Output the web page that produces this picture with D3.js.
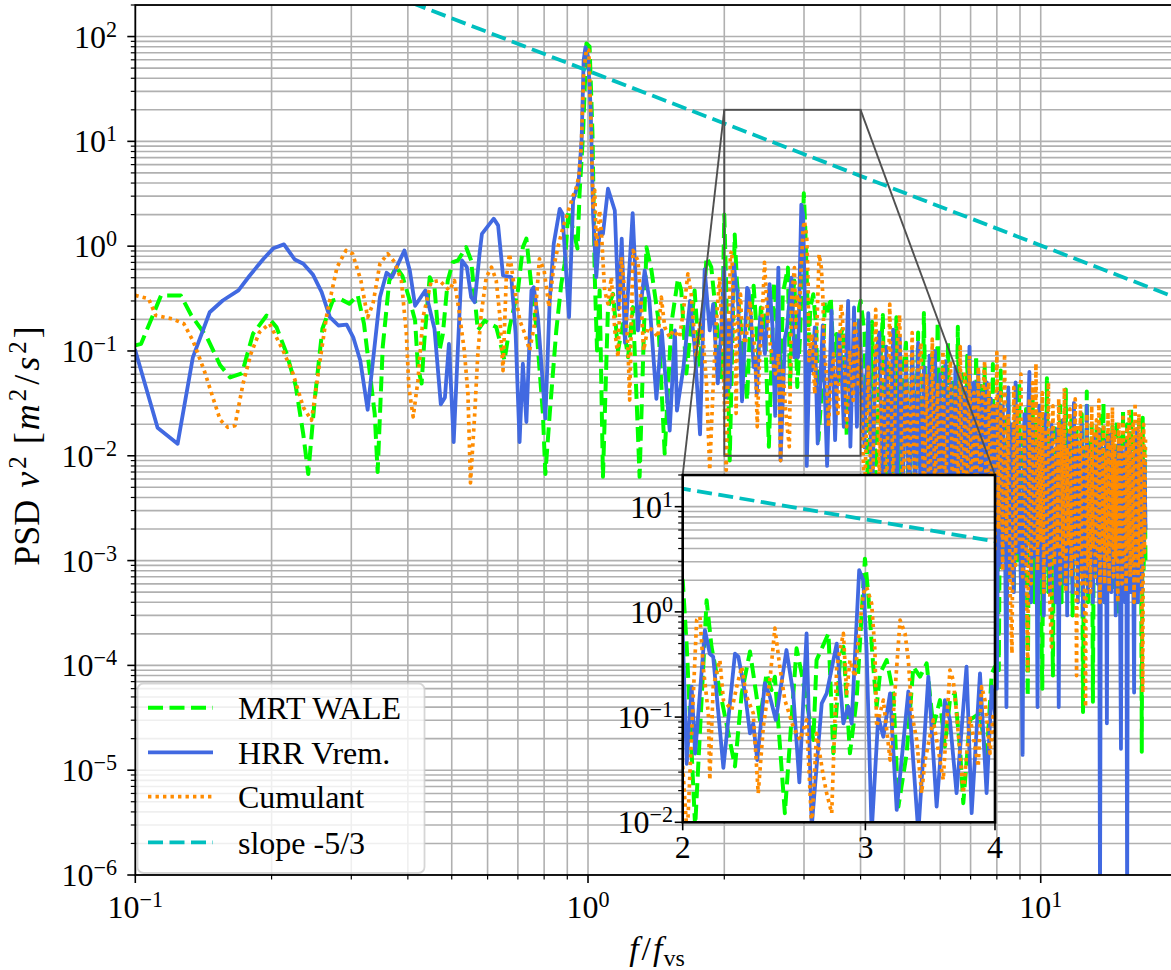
<!DOCTYPE html>
<html><head><meta charset="utf-8">
<script src="https://cdn.jsdelivr.net/npm/d3@7"></script>
<style>
body{margin:0;background:#fff}
svg{display:block}
text{font-family:"Liberation Serif","Times New Roman",serif;fill:#000}
</style>
</head><body>
<svg id="c" width="1171" height="970"></svg>
<script>
// ---------------- DATA ----------------
const seriesNames = ["MRT WALE", "HRR Vrem.", "Cumulant", "slope -5/3"];

// low-frequency + zoom-window part, [f/f_vs, PSD]
const hrrLow = [[0.100,0.101],[0.112,0.0185],[0.124,0.013],[0.134,0.087],[0.146,0.234],[0.156,0.303],[0.169,0.378],[0.179,0.525],[0.192,0.758],[0.202,0.957],[0.213,1.04],[0.225,0.746],[0.235,0.68],[0.247,0.533],[0.258,0.364],[0.269,0.21],[0.281,0.175],[0.293,0.178],[0.303,0.135],[0.314,0.081],[0.326,0.0275],[0.347,0.326],[0.359,0.557],[0.369,0.506],[0.393,0.91],[0.404,0.586],[0.415,0.27],[0.437,0.378],[0.458,0.163],[0.473,0.031],[0.483,0.036],[0.493,0.117],[0.505,0.0135],[0.520,0.226],[0.527,0.73],[0.540,0.63],[0.552,0.326],[0.562,0.292],[0.576,0.846],[0.583,1.31],[0.619,1.83],[0.633,1.58],[0.649,0.525],[0.677,0.506],[0.692,0.146],[0.706,0.0135],[0.718,0.0755],[0.731,0.021],[0.750,0.378],[0.759,0.406],[0.776,0.195],[0.805,0.0226],[0.823,0.303],[0.840,1.05],[0.866,2.27],[0.878,2.04],[0.908,0.21],[0.927,2.73],[0.953,4.08],[0.968,10.2],[0.978,59],[0.987,79],[1.000,65],[1.014,19.7],[1.026,2.04],[1.043,0.506],[1.061,1.41],[1.079,1.31],[1.107,3.53],[1.146,2.19],[1.168,0.25],[1.187,1.18],[1.207,0.12],[1.255,2.07],[1.289,0.157],[1.334,0.586],[1.366,0.31],[1.416,0.035],[1.455,0.157],[1.515,0.0174],[1.556,0.157],[1.572,0.027],[1.625,0.07],[1.680,0.3],[1.720,0.109],[1.768,0.016],[1.810,0.6],[1.857,0.157],[1.890,0.28],[1.935,0.049],[1.971,0.169],[2.000,0.62],[2.018,0.036],[2.040,0.195],[2.056,0.045],[2.101,0.67],[2.124,0.40],[2.140,0.375],[2.189,0.033],[2.246,0.40],[2.263,0.375],[2.297,0.168],[2.322,0.07],[2.339,0.087],[2.360,0.039],[2.400,0.21],[2.427,0.157],[2.459,0.094],[2.518,0.434],[2.556,0.168],[2.591,0.024],[2.633,0.624],[2.663,0.009],[2.723,0.135],[2.753,0.168],[2.815,0.50],[2.857,0.087],[2.888,0.126],[2.910,0.087],[2.959,2.49],[2.986,2.0],[3.008,0.434],[3.042,0.008],[3.087,0.101],[3.122,0.065],[3.169,0.168],[3.216,0.0131],[3.300,0.175],[3.374,0.008],[3.450,0.242],[3.514,0.0141],[3.579,0.145],[3.619,0.094],[3.673,0.0189],[3.755,0.301],[3.798,0.0122],[3.869,0.26],[3.926,0.0189],[3.971,0.195],[4.000,0.109]];

const mrtLow = [[0.100,0.113],[0.103,0.117],[0.114,0.339],[0.126,0.339],[0.133,0.218],[0.144,0.135],[0.154,0.073],[0.162,0.056],[0.172,0.061],[0.182,0.146],[0.195,0.218],[0.205,0.169],[0.216,0.094],[0.226,0.047],[0.235,0.016],[0.241,0.0067],[0.249,0.034],[0.259,0.163],[0.273,0.303],[0.283,0.315],[0.297,0.282],[0.310,0.339],[0.320,0.182],[0.338,0.025],[0.343,0.007],[0.352,0.109],[0.364,0.47],[0.377,0.63],[0.389,0.52],[0.404,0.303],[0.415,0.195],[0.421,0.07],[0.429,0.049],[0.435,0.126],[0.447,0.506],[0.458,0.406],[0.470,0.101],[0.478,0.146],[0.490,0.47],[0.503,0.704],[0.516,0.73],[0.538,0.978],[0.552,0.73],[0.571,0.157],[0.591,0.195],[0.606,0.182],[0.627,0.169],[0.638,0.126],[0.654,0.081],[0.671,0.169],[0.700,0.378],[0.718,0.978],[0.731,1.18],[0.750,0.406],[0.769,0.169],[0.795,0.025],[0.805,0.0067],[0.823,0.025],[0.851,0.157],[0.873,0.438],[0.888,0.68],[0.896,1.13],[0.905,2.2],[0.925,1.5],[0.948,0.95],[0.958,3.2],[0.975,11.8],[0.992,86],[1.008,80],[1.023,11.8],[1.035,0.506],[1.047,0.101],[1.061,0.378],[1.079,0.0063],[1.107,0.262],[1.136,0.351],[1.165,0.101],[1.195,0.182],[1.226,0.087],[1.257,0.262],[1.300,0.0063],[1.346,0.978],[1.381,0.586],[1.428,0.21],[1.477,0.0105],[1.528,0.182],[1.580,0.489],[1.607,0.378],[1.649,0.0608],[1.720,0.378],[1.765,0.07],[1.827,0.785],[1.872,0.63],[1.920,0.21],[1.971,0.056],[2.000,2.0],[2.018,0.467],[2.056,0.009],[2.109,1.29],[2.132,0.467],[2.156,0.26],[2.181,0.145],[2.246,0.034],[2.280,0.168],[2.322,0.42],[2.339,0.26],[2.374,0.094],[2.409,0.26],[2.436,0.181],[2.454,0.242],[2.509,0.0122],[2.575,0.45],[2.604,0.26],[2.673,0.0606],[2.692,0.348],[2.764,0.624],[2.794,0.0453],[2.836,0.348],[2.857,0.467],[2.899,0.0453],[2.942,0.145],[2.997,3.2],[3.019,1.5],[3.053,0.301],[3.076,0.126],[3.099,0.26],[3.145,0.348],[3.192,0.168],[3.228,0.0141],[3.288,0.0453],[3.337,0.301],[3.387,0.242],[3.437,0.324],[3.488,0.081],[3.540,0.145],[3.579,0.0524],[3.619,0.145],[3.659,0.168],[3.700,0.0524],[3.728,0.0152],[3.784,0.094],[3.869,0.109],[3.926,0.039],[3.971,0.26],[4.000,0.301]];

const cumLow = [[0.100,0.339],[0.107,0.315],[0.111,0.218],[0.121,0.202],[0.128,0.182],[0.134,0.126],[0.142,0.065],[0.149,0.034],[0.154,0.022],[0.160,0.0187],[0.166,0.0194],[0.173,0.049],[0.180,0.094],[0.188,0.151],[0.198,0.182],[0.212,0.101],[0.223,0.061],[0.235,0.029],[0.245,0.0218],[0.254,0.065],[0.265,0.226],[0.279,0.63],[0.292,0.91],[0.302,0.846],[0.315,0.47],[0.326,0.21],[0.335,0.282],[0.347,0.68],[0.361,0.846],[0.374,0.704],[0.387,0.47],[0.397,0.146],[0.402,0.045],[0.411,0.0235],[0.421,0.052],[0.432,0.21],[0.450,0.454],[0.470,0.47],[0.494,0.378],[0.507,0.47],[0.520,0.226],[0.533,0.101],[0.543,0.039],[0.550,0.0055],[0.562,0.025],[0.571,0.094],[0.581,0.226],[0.596,0.506],[0.612,0.63],[0.627,0.47],[0.638,0.226],[0.649,0.065],[0.660,0.506],[0.671,0.846],[0.689,0.378],[0.707,0.195],[0.725,0.146],[0.743,0.101],[0.762,0.182],[0.781,0.758],[0.800,0.586],[0.820,0.262],[0.840,0.63],[0.858,0.978],[0.881,1.52],[0.903,2.11],[0.927,3.04],[0.943,3.65],[0.955,4.72],[0.967,9.5],[0.978,44],[0.992,76],[1.004,74],[1.017,11.8],[1.026,2.36],[1.035,3.4],[1.043,0.978],[1.061,2.19],[1.070,1.41],[1.088,0.378],[1.107,0.282],[1.126,0.506],[1.146,0.157],[1.165,0.087],[1.185,0.785],[1.205,0.378],[1.226,0.101],[1.236,0.034],[1.257,0.91],[1.289,0.73],[1.312,0.262],[1.327,0.101],[1.357,0.169],[1.392,0.157],[1.428,0.135],[1.452,0.326],[1.477,0.169],[1.515,0.135],[1.541,0.157],[1.594,0.135],[1.643,0.351],[1.662,0.545],[1.690,0.351],[1.720,0.135],[1.735,0.087],[1.765,0.182],[1.795,0.135],[1.827,0.049],[1.857,0.0073],[1.888,0.042],[1.920,0.182],[1.953,0.506],[1.986,0.101],[2.020,0.0073],[2.048,0.168],[2.063,0.836],[2.078,0.9],[2.093,0.301],[2.117,0.109],[2.124,0.0253],[2.140,0.195],[2.172,0.348],[2.189,0.145],[2.230,0.117],[2.255,0.195],[2.280,0.301],[2.305,0.157],[2.339,0.109],[2.365,0.0189],[2.392,0.081],[2.427,0.225],[2.454,0.70],[2.481,0.301],[2.509,0.145],[2.556,0.081],[2.595,0.0606],[2.633,0.094],[2.663,0.009],[2.692,0.07],[2.733,0.0272],[2.753,0.0189],[2.784,0.0122],[2.815,0.301],[2.857,0.624],[2.878,0.168],[2.899,0.348],[2.931,0.242],[2.953,0.54],[2.986,1.5],[3.008,1.73],[3.042,1.2],[3.064,0.434],[3.076,0.081],[3.122,0.145],[3.169,0.039],[3.240,0.836],[3.276,0.624],[3.300,0.348],[3.325,0.109],[3.362,0.0606],[3.399,0.0189],[3.425,0.039],[3.488,0.094],[3.514,0.0606],[3.566,0.0253],[3.619,0.28],[3.646,0.225],[3.673,0.109],[3.728,0.0189],[3.784,0.101],[3.854,0.0338],[3.883,0.195],[3.912,0.145],[3.956,0.0453],[3.985,0.109]];

// high-frequency part: shared frequency samples
const denseFreq = [4.08,4.16,4.24,4.32,4.40,4.48,4.56,4.64,4.72,4.80,
4.88,4.96,5.04,5.12,5.20,5.28,5.36,5.44,5.52,5.60,
5.68,5.76,5.84,5.92,6.00,6.08,6.16,6.24,6.32,6.40,
6.48,6.56,6.64,6.72,6.80,6.88,6.96,7.04,7.12,7.20,
7.28,7.36,7.44,7.52,7.60,7.68,7.76,7.84,7.92,8.00,
8.08,8.16,8.24,8.32,8.40,8.48,8.56,8.64,8.72,8.80,
8.88,8.96,9.04,9.12,9.20,9.28,9.36,9.44,9.52,9.60,
9.68,9.76,9.84,9.92,10.00,10.08,10.16,10.24,10.32,10.40,
10.48,10.56,10.64,10.72,10.80,10.88,10.96,11.04,11.12,11.20,
11.28,11.36,11.44,11.52,11.60,11.68,11.76,11.84,11.92,12.00,
12.08,12.16,12.24,12.32,12.40,12.48,12.56,12.64,12.72,12.80,
12.88,12.96,13.04,13.12,13.20,13.28,13.36,13.44,13.52,13.60,
13.68,13.76,13.84,13.92,14.00,14.08,14.16,14.24,14.32,14.40,
14.48,14.56,14.64,14.72,14.80,14.88,14.96,15.04,15.12,15.20,
15.28,15.36,15.44,15.52,15.60,15.68,15.76,15.84,15.92,16.00,
16.08,16.16,16.24,16.32,16.40,16.48,16.56,16.64,16.72,16.80,
16.88,16.96,17.04];

const hrrDense = [0.012,0.23,0.004,0.09,0.15,0.003,0.11,0.005,0.16,0.002,
0.14,0.006,0.08,0.003,0.1,0.004,0.12,0.002,0.07,0.003,
0.09,0.0015,0.1,0.004,0.06,0.002,0.08,0.003,0.05,0.0012,
0.07,0.002,0.06,0.004,0.045,0.0018,0.11,0.003,0.05,0.0015,
0.065,0.002,0.04,0.001,0.05,0.0025,0.035,0.0008,0.03,0.00006,
0.04,0.0009,0.03,0.006,0.00004,0.045,0.0007,0.02,0.0005,0.05,
0.0012,0.015,0.0006,0.000014,0.025,0.0009,0.018,0.063,0.0004,0.02,
0.0011,0.012,0.00004,0.03,0.0007,0.016,0.0003,0.025,0.0009,0.012,
0.0005,0.02,0.0012,0.009,0.0004,0.018,0.00004,0.015,0.0008,0.022,
0.0006,0.01,0.0003,0.016,0.0009,0.008,0.0005,0.032,0.0012,0.014,
0.0004,0.011,0.0008,0.02,0.0003,0.009,0.0007,0.03,0.0005,0.012,
0.001,0.007,0.0004,0.015,0.0008,0.01,0.0006,0.018,0.0000005,0.012,
0.0009,0.008,0.0004,0.014,0.000028,0.01,0.0007,0.016,0.0005,0.007,
0.001,0.012,0.0003,0.009,0.0008,0.014,0.0006,0.000016,0.011,0.0009,
0.006,0.0004,0.013,0.0000005,0.009,0.0007,0.012,0.0005,0.008,0.0011,
0.000055,0.01,0.0006,0.018,0.0004,0.008,0.0009,0.012,0.0005,0.007,
0.0012,0.009,0.002];

const mrtDense = [0.15,0.003,0.19,0.006,0.05,0.22,0.002,0.08,0.004,0.21,
0.003,0.06,0.12,0.002,0.09,0.005,0.15,0.001,0.23,0.004,
0.06,0.1,0.002,0.19,0.003,0.07,0.0015,0.12,0.004,0.05,
0.002,0.17,0.003,0.06,0.001,0.09,0.004,0.035,0.002,0.09,
0.0012,0.05,0.003,0.07,0.001,0.04,0.002,0.075,0.0015,0.03,
0.00009,0.065,0.001,0.025,0.0006,0.04,0.0014,0.018,0.0005,0.03,
0.001,0.05,0.0007,0.015,0.0012,0.028,0.00005,0.012,0.0009,0.035,
0.0004,0.02,0.0011,0.01,0.0006,0.00006,0.025,0.0009,0.055,0.0005,
0.016,0.0013,0.00008,0.02,0.0007,0.012,0.001,0.03,0.0004,0.014,
0.0011,0.043,0.0006,0.01,0.0009,0.022,0.0003,0.015,0.0012,0.018,
0.0005,0.008,0.001,0.025,0.000036,0.012,0.0008,0.041,0.0004,0.014,
0.0011,0.02,0.000045,0.01,0.0007,0.018,0.0012,0.009,0.0005,0.024,
0.0009,0.032,0.0004,0.011,0.001,0.016,0.0006,0.008,0.0013,0.019,
0.0005,0.012,0.0009,0.022,0.0003,0.01,0.0011,0.015,0.0007,0.028,
0.0004,0.009,0.001,0.02,0.0006,0.012,0.0012,0.028,0.0005,0.01,
0.0009,0.016,0.0004,0.007,0.001,0.022,0.0006,0.011,0.000015,0.023,
0.0008,0.012,0.0009];

const cumDense = [0.004,0.07,0.002,0.25,0.006,0.12,0.003,0.28,0.005,0.09,
0.22,0.002,0.1,0.004,0.15,0.0015,0.07,0.12,0.003,0.06,
0.002,0.13,0.004,0.05,0.0015,0.1,0.003,0.04,0.08,0.002,
0.045,0.004,0.11,0.0012,0.06,0.003,0.09,0.002,0.04,0.0015,
0.07,0.003,0.035,0.08,0.001,0.05,0.0025,0.03,0.0012,0.097,
0.002,0.04,0.0008,0.094,0.0015,0.025,0.0005,0.00013,0.045,0.0009,
0.03,0.0016,0.06,0.0007,0.02,0.0013,0.00009,0.035,0.0006,0.05,
0.0012,0.076,0.0008,0.025,0.0015,0.04,0.0005,0.018,0.0011,0.05,
0.0004,0.00015,0.03,0.0009,0.015,0.0013,0.035,0.0006,0.02,0.0011,
0.044,0.0005,0.012,0.0014,0.028,0.0007,0.018,0.001,0.035,0.00008,
0.02,0.0012,0.03,0.0006,0.014,0.001,0.00004,0.025,0.0009,0.012,
0.0005,0.03,0.0013,0.016,0.0007,0.022,0.0011,0.034,0.0004,0.014,
0.0012,0.02,0.0006,0.011,0.001,0.026,0.0005,0.013,0.0013,0.029,
0.0007,0.017,0.001,0.009,0.0004,0.021,0.0012,0.015,0.0006,0.025,
0.001,0.011,0.0005,0.019,0.0013,0.028,0.0007,0.014,0.001,0.02,
0.0004,0.032,0.0011,0.012,0.0006,0.025,0.0009,0.016,0.0005,0.000055,
0.02,0.0012,0.015];

// -5/3 reference line (two end points)
const slopeFreq = [0.3, 20];
const slopePsd = [350, 0.32];

// tick exponents / labels
const mainXExp = [-1, 0, 1];
const mainYExp = [-6, -5, -4, -3, -2, -1, 0, 1, 2];
const insetXTicks = [2, 3, 4];
const insetYExp = [-2, -1, 0, 1];

// ---------------- BUILD ----------------
const mrt = mrtLow.concat(denseFreq.map((f, i) => [f, mrtDense[i]]));
const hrr = hrrLow.concat(denseFreq.map((f, i) => [f, hrrDense[i]]));
const cum = cumLow.concat(denseFreq.map((f, i) => [f, cumDense[i]]));
const slope = slopeFreq.map((f, i) => [f, slopePsd[i]]);

const styles = [
  {data: mrt, color: "#00ff00", width: 4, dash: "15 6.5"},
  {data: hrr, color: "#4169e1", width: 3.8, dash: null},
  {data: cum, color: "#ff8c00", width: 3.7, dash: "3.4 4.1"},
  {data: slope, color: "#00bfbf", width: 3.8, dash: "15 6.5"}
];

const svg = d3.select("#c");
const FS = 32;
const GRID = "#b0b0b0";

const M = {l: 135.3, r: 1177, t: 5, b: 875};
const x = d3.scaleLog().domain([0.1, 20]).range([M.l, M.r]);
const y = d3.scaleLog().domain([1e-6, 200]).range([M.b, M.t]);

const I = {l: 682.7, r: 995, t: 475, b: 822.3};
const xi = d3.scaleLog().domain([2, 4]).range([I.l, I.r]);
const yi = d3.scaleLog().domain([0.01, 20]).range([I.b, I.t]);

const defs = svg.append("defs");
defs.append("clipPath").attr("id", "clipMain").append("rect")
  .attr("x", M.l).attr("y", M.t).attr("width", M.r - M.l).attr("height", M.b - M.t);
defs.append("clipPath").attr("id", "clipInset").append("rect")
  .attr("x", I.l).attr("y", I.t).attr("width", I.r - I.l).attr("height", I.b - I.t);

function powText(g, px, py, anchor, exp, size) {
  const t = g.append("text").attr("x", px).attr("y", py).attr("text-anchor", anchor)
    .attr("font-size", size);
  t.append("tspan").text("10");
  t.append("tspan").attr("dy", -11).attr("font-size", size * 0.69)
    .text(exp < 0 ? "\u2212" + (-exp) : String(exp));
  return t;
}

// ---- main grid ----
const gGrid = svg.append("g").attr("clip-path", "url(#clipMain)");
const xTicksAll = x.ticks();
const yTicksAll = y.ticks();
gGrid.selectAll(".vg").data(xTicksAll).enter().append("line")
  .attr("x1", d => x(d)).attr("x2", d => x(d)).attr("y1", M.t).attr("y2", M.b)
  .attr("stroke", GRID).attr("stroke-width", 1.6);
gGrid.selectAll(".hg").data(yTicksAll).enter().append("line")
  .attr("x1", M.l).attr("x2", M.r).attr("y1", d => y(d)).attr("y2", d => y(d))
  .attr("stroke", GRID).attr("stroke-width", 1.6);

// ---- main data ----
const gData = svg.append("g").attr("clip-path", "url(#clipMain)");
function drawLines(g, xs, ys) {
  const ln = d3.line().x(d => xs(d[0])).y(d => ys(d[1]));
  styles.forEach(s => {
    g.append("path").attr("d", ln(s.data)).attr("fill", "none")
      .attr("stroke", s.color).attr("stroke-width", s.width)
      .attr("stroke-linejoin", "round")
      .attr("stroke-linecap", s.dash ? "butt" : "round")
      .attr("stroke-dasharray", s.dash);
  });
}
drawLines(gData, x, y);

// ---- mark inset rectangle and connectors ----
const gMark = svg.append("g").attr("clip-path", "url(#clipMain)");
const markStroke = "#505050";
gMark.append("rect").attr("x", x(2)).attr("y", y(20))
  .attr("width", x(4) - x(2)).attr("height", y(0.01) - y(20))
  .attr("fill", "none").attr("stroke", markStroke).attr("stroke-width", 1.9);
gMark.append("line").attr("x1", x(2)).attr("y1", y(20)).attr("x2", I.l).attr("y2", I.t)
  .attr("stroke", markStroke).attr("stroke-width", 1.9);
gMark.append("line").attr("x1", x(4)).attr("y1", y(20)).attr("x2", I.r).attr("y2", I.t)
  .attr("stroke", markStroke).attr("stroke-width", 1.9);

// ---- main spines ----
svg.append("rect").attr("x", M.l).attr("y", M.t).attr("width", M.r - M.l).attr("height", M.b - M.t)
  .attr("fill", "none").attr("stroke", "#000").attr("stroke-width", 1.8);

// ---- main ticks ----
const gAx = svg.append("g");
const xMaj = mainXExp.map(e => Math.pow(10, e));
const yMaj = mainYExp.map(e => Math.pow(10, e));
const isMaj = (v, arr) => arr.some(m => Math.abs(v / m - 1) < 1e-6);
xTicksAll.forEach(v => {
  const L = isMaj(v, xMaj) ? 8 : 4.5;
  gAx.append("line").attr("x1", x(v)).attr("x2", x(v)).attr("y1", M.b).attr("y2", M.b + L)
    .attr("stroke", "#000").attr("stroke-width", isMaj(v, xMaj) ? 1.6 : 1.2);
});
yTicksAll.forEach(v => {
  const L = isMaj(v, yMaj) ? 8 : 4.5;
  gAx.append("line").attr("x1", M.l - L).attr("x2", M.l).attr("y1", y(v)).attr("y2", y(v))
    .attr("stroke", "#000").attr("stroke-width", isMaj(v, yMaj) ? 1.6 : 1.2);
});
mainXExp.forEach(e => powText(gAx, x(Math.pow(10, e)), 918, "middle", e, FS));
mainYExp.forEach(e => powText(gAx, 117, y(Math.pow(10, e)) + 11, "end", e, FS));

// axis labels
const xl = gAx.append("text").attr("x", 657).attr("y", 960).attr("text-anchor", "middle")
  .attr("font-size", 34);
xl.append("tspan").attr("font-style", "italic").text("f");
xl.append("tspan").attr("dx", 3).text("/");
xl.append("tspan").attr("dx", 2).attr("font-style", "italic").text("f");
xl.append("tspan").attr("dx", 1).attr("dy", 6).attr("font-size", 24).text("vs");

const yl = gAx.append("text").attr("transform", "translate(38.5,446) rotate(-90)")
  .attr("text-anchor", "middle").attr("font-size", 36);
yl.append("tspan").text("PSD");
yl.append("tspan").attr("dx", 12).attr("font-style", "italic").text("v");
yl.append("tspan").attr("dx", 3).attr("dy", -13).attr("font-size", 25).text("2");
yl.append("tspan").attr("dx", 12).attr("dy", 13).text("[");
yl.append("tspan").attr("dx", 2).attr("font-style", "italic").text("m");
yl.append("tspan").attr("dx", 3).attr("dy", -13).attr("font-size", 25).text("2");
yl.append("tspan").attr("dx", 4).attr("dy", 13).text("/");
yl.append("tspan").attr("dx", 4).attr("font-style", "italic").text("s");
yl.append("tspan").attr("dx", 3).attr("dy", -13).attr("font-size", 25).text("2");
yl.append("tspan").attr("dx", 3).attr("dy", 13).text("]");

// ---- legend ----
const gLeg = svg.append("g");
gLeg.append("rect").attr("x", 137.5).attr("y", 683.5).attr("width", 287).attr("height", 189.5)
  .attr("rx", 6).attr("fill", "#fff").attr("fill-opacity", 0.8)
  .attr("stroke", "#cccccc").attr("stroke-opacity", 0.8).attr("stroke-width", 1.8);
const rowY = [707.7, 752.3, 796.7, 842.3];
styles.forEach((s, i) => {
  gLeg.append("line").attr("x1", 148).attr("x2", 213).attr("y1", rowY[i]).attr("y2", rowY[i])
    .attr("stroke", s.color).attr("stroke-width", s.width)
    .attr("stroke-dasharray", s.dash).attr("stroke-linecap", "butt");
  gLeg.append("text").attr("x", 238).attr("y", rowY[i] + 11.5).attr("font-size", FS)
    .text(seriesNames[i]);
});

// ---- inset ----
const gIn = svg.append("g");
gIn.append("rect").attr("x", I.l).attr("y", I.t).attr("width", I.r - I.l).attr("height", I.b - I.t)
  .attr("fill", "#fff");
const gInGrid = gIn.append("g").attr("clip-path", "url(#clipInset)");
const yiTicks = yi.ticks();
gInGrid.selectAll(".ihg").data(yiTicks).enter().append("line")
  .attr("x1", I.l).attr("x2", I.r).attr("y1", d => yi(d)).attr("y2", d => yi(d))
  .attr("stroke", GRID).attr("stroke-width", 1.6);
gInGrid.selectAll(".ivg").data(insetXTicks).enter().append("line")
  .attr("x1", d => xi(d)).attr("x2", d => xi(d)).attr("y1", I.t).attr("y2", I.b)
  .attr("stroke", GRID).attr("stroke-width", 1.6);
const gInData = gIn.append("g").attr("clip-path", "url(#clipInset)");
drawLines(gInData, xi, yi);
gIn.append("rect").attr("x", I.l).attr("y", I.t).attr("width", I.r - I.l).attr("height", I.b - I.t)
  .attr("fill", "none").attr("stroke", "#000").attr("stroke-width", 2.6);
const yiMaj = insetYExp.map(e => Math.pow(10, e));
yiTicks.forEach(v => {
  const maj = isMaj(v, yiMaj);
  gIn.append("line").attr("x1", I.l - (maj ? 8 : 4.5)).attr("x2", I.l).attr("y1", yi(v)).attr("y2", yi(v))
    .attr("stroke", "#000").attr("stroke-width", maj ? 1.6 : 1.2);
});
insetXTicks.forEach(v => {
  gIn.append("line").attr("x1", xi(v)).attr("x2", xi(v)).attr("y1", I.b).attr("y2", I.b + 8)
    .attr("stroke", "#000").attr("stroke-width", 1.6);
  gIn.append("text").attr("x", xi(v)).attr("y", 858).attr("text-anchor", "middle")
    .attr("font-size", FS).text(v);
});
insetYExp.forEach(e => powText(gIn, 673, yi(Math.pow(10, e)) + 11, "end", e, FS));
</script>
</body></html>
